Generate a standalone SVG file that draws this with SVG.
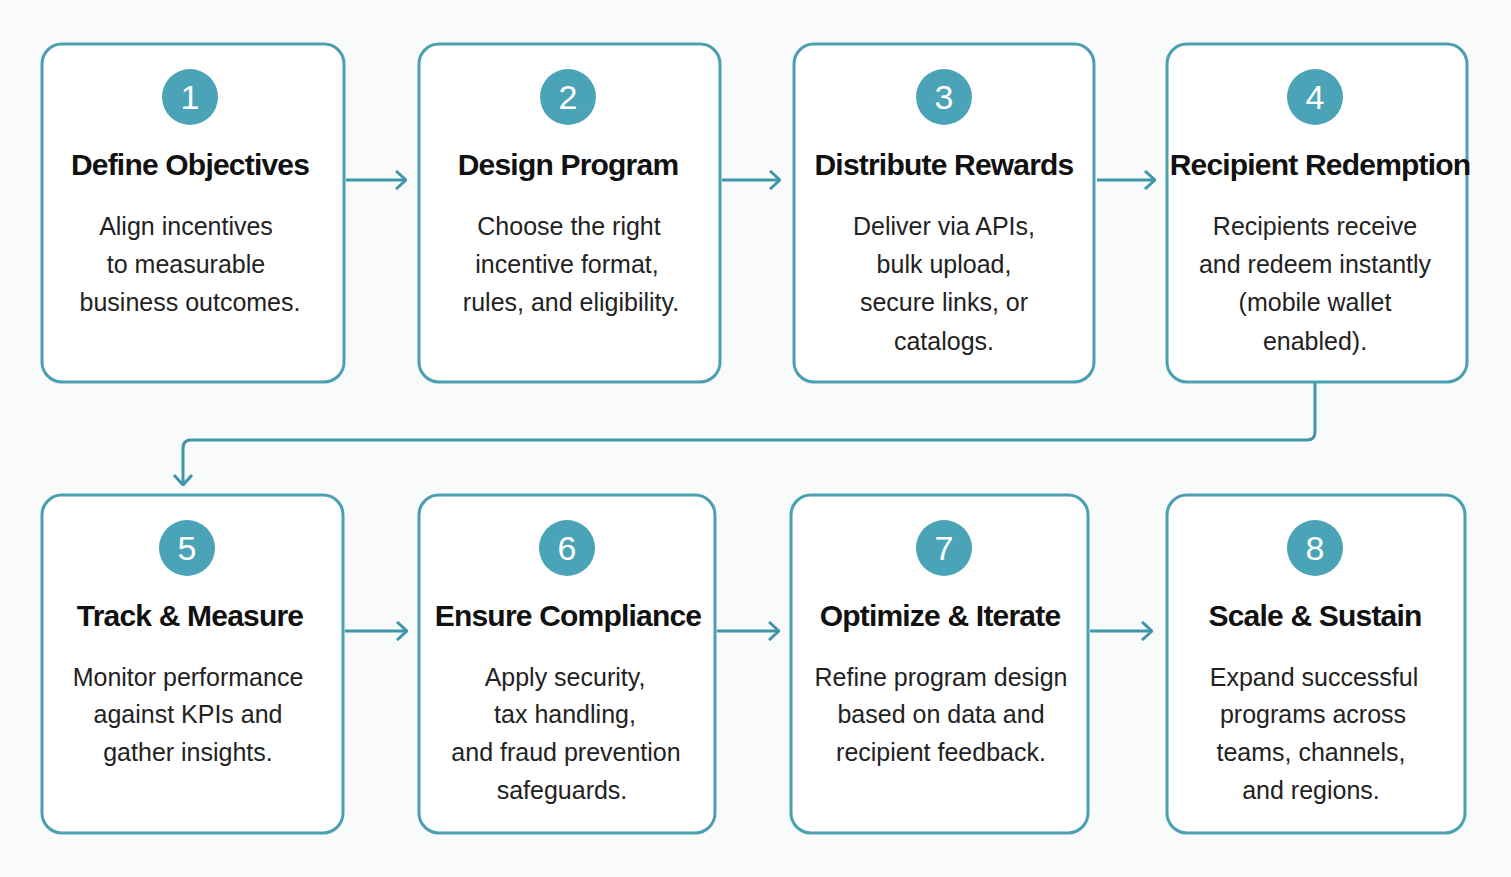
<svg xmlns="http://www.w3.org/2000/svg" width="1511" height="877" viewBox="0 0 1511 877">
<defs>
<style>
.box{fill:#fff;stroke:#4a9fb1;stroke-width:3}
.c{fill:#4aa3b6}
.n{font-family:"Liberation Sans",Arial,sans-serif;font-size:34px;fill:#fff;text-anchor:middle}
.t{font-family:"Liberation Sans",Arial,sans-serif;font-size:30px;font-weight:bold;fill:#111;text-anchor:middle;letter-spacing:-0.8px}
.b{font-family:"Liberation Sans",Arial,sans-serif;font-size:25px;fill:#222;text-anchor:middle}
.ln{fill:none;stroke:#3f96a8;stroke-width:3}
</style>
<marker id="a" viewBox="0 0 12 20" refX="11" refY="10" markerWidth="12" markerHeight="20" markerUnits="userSpaceOnUse" orient="auto"><path d="M1,1 L11,10 L1,19" fill="none" stroke="#3f96a8" stroke-width="3"/></marker>
</defs>
<rect width="1511" height="877" fill="#f9fafa"/>
<g id="connectors">
<line class="ln" x1="346" y1="180" x2="406" y2="180" marker-end="url(#a)"/>
<line class="ln" x1="722" y1="180" x2="780" y2="180" marker-end="url(#a)"/>
<line class="ln" x1="1097" y1="180" x2="1155" y2="180" marker-end="url(#a)"/>
<path class="ln" d="M1315,383 V432 Q1315,440 1307,440 H191 Q183,440 183,448 V485" marker-end="url(#a)"/>
<line class="ln" x1="345" y1="631" x2="407" y2="631" marker-end="url(#a)"/>
<line class="ln" x1="717" y1="631" x2="779" y2="631" marker-end="url(#a)"/>
<line class="ln" x1="1090" y1="631" x2="1152" y2="631" marker-end="url(#a)"/>
</g>
<g id="n1"><rect class="box" x="42" y="44" width="302" height="338" rx="20"/><circle class="c" cx="190" cy="97" r="28"/><text class="n" x="190" y="109">1</text><text class="t" x="190" y="175">Define Objectives</text><text class="b" x="186" y="235">Align incentives</text><text class="b" x="186" y="273">to measurable</text><text class="b" x="190" y="311">business outcomes.</text></g>
<g id="n2"><rect class="box" x="419" y="44" width="301" height="338" rx="20"/><circle class="c" cx="568" cy="97" r="28"/><text class="n" x="568" y="109">2</text><text class="t" x="568" y="175">Design Program</text><text class="b" x="569" y="235">Choose the right</text><text class="b" x="567" y="273">incentive format,</text><text class="b" x="571" y="311">rules, and eligibility.</text></g>
<g id="n3"><rect class="box" x="794" y="44" width="300" height="338" rx="20"/><circle class="c" cx="944" cy="97" r="28"/><text class="n" x="944" y="109">3</text><text class="t" x="944" y="175">Distribute Rewards</text><text class="b" x="944" y="235">Deliver via APIs,</text><text class="b" x="944" y="273">bulk upload,</text><text class="b" x="944" y="311">secure links, or</text><text class="b" x="944" y="350">catalogs.</text></g>
<g id="n4"><rect class="box" x="1167" y="44" width="300" height="338" rx="20"/><circle class="c" cx="1315" cy="97" r="28"/><text class="n" x="1315" y="109">4</text><text class="t" x="1320" y="175">Recipient Redemption</text><text class="b" x="1315" y="235">Recipients receive</text><text class="b" x="1315" y="273">and redeem instantly</text><text class="b" x="1315" y="311">(mobile wallet</text><text class="b" x="1315" y="350">enabled).</text></g>
<g id="n5"><rect class="box" x="42" y="495" width="301" height="338" rx="20"/><circle class="c" cx="187" cy="548" r="28"/><text class="n" x="187" y="560">5</text><text class="t" x="190" y="626">Track &amp; Measure</text><text class="b" x="188" y="686">Monitor performance</text><text class="b" x="188" y="723">against KPIs and</text><text class="b" x="188" y="761">gather insights.</text></g>
<g id="n6"><rect class="box" x="419" y="495" width="296" height="338" rx="20"/><circle class="c" cx="567" cy="548" r="28"/><text class="n" x="567" y="560">6</text><text class="t" x="568" y="626">Ensure Compliance</text><text class="b" x="565" y="686">Apply security,</text><text class="b" x="565" y="723">tax handling,</text><text class="b" x="566" y="761">and fraud prevention</text><text class="b" x="562" y="799">safeguards.</text></g>
<g id="n7"><rect class="box" x="791" y="495" width="297" height="338" rx="20"/><circle class="c" cx="944" cy="548" r="28"/><text class="n" x="944" y="560">7</text><text class="t" x="940" y="626">Optimize &amp; Iterate</text><text class="b" x="941" y="686">Refine program design</text><text class="b" x="941" y="723">based on data and</text><text class="b" x="941" y="761">recipient feedback.</text></g>
<g id="n8"><rect class="box" x="1167" y="495" width="298" height="338" rx="20"/><circle class="c" cx="1315" cy="548" r="28"/><text class="n" x="1315" y="560">8</text><text class="t" x="1315" y="626">Scale &amp; Sustain</text><text class="b" x="1314" y="686">Expand successful</text><text class="b" x="1313" y="723">programs across</text><text class="b" x="1311" y="761">teams, channels,</text><text class="b" x="1311" y="799">and regions.</text></g>
</svg>
